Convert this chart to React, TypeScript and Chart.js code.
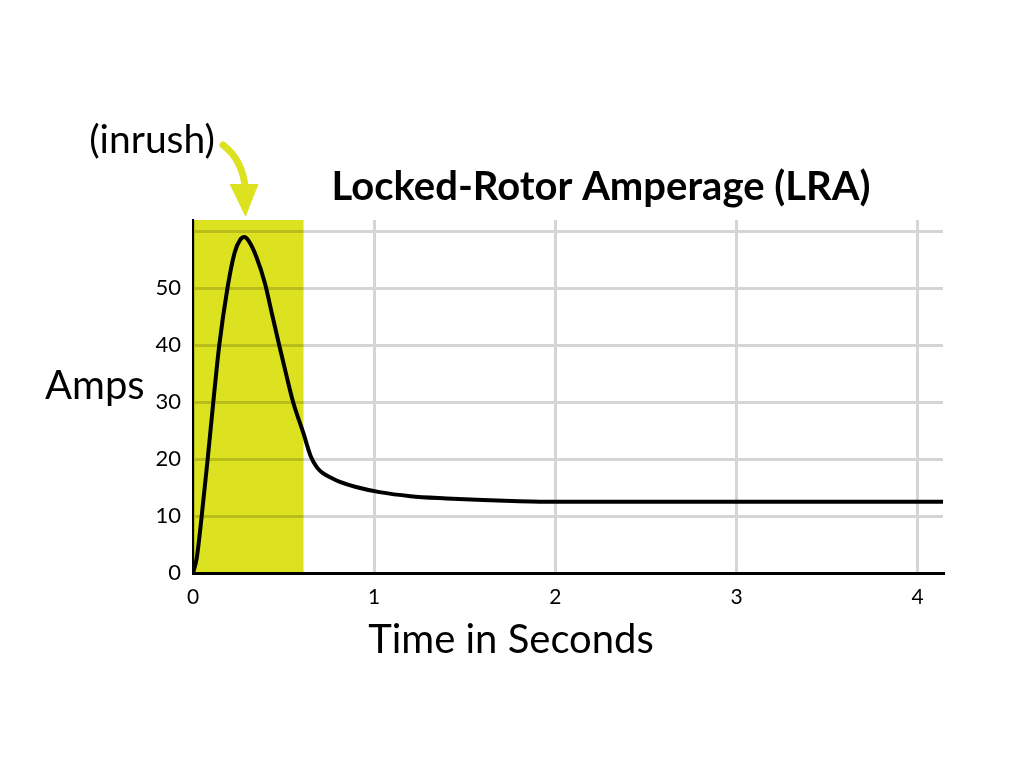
import React, { useEffect, useRef } from "react";
import { Chart, registerables } from "chart.js";

Chart.register(...registerables);

const timeSeconds = [0, 0.02, 0.048, 0.081, 0.112, 0.145, 0.19, 0.23, 0.26, 0.283, 0.31, 0.35, 0.397, 0.436, 0.476, 0.515, 0.553, 0.609, 0.651, 0.685, 0.719, 0.77, 0.811, 0.9, 1.03, 1.2, 1.4, 1.6, 1.8, 2.0, 2.5, 3.0, 3.5, 4.14];
const amps = [0, 2.5, 10, 20, 30, 40, 50, 56.3, 58.5, 59, 58.2, 55.5, 50.9, 45.5, 40, 34.8, 30, 24.6, 20.4, 18.5, 17.5, 16.6, 16.0, 15.1, 14.2, 13.5, 13.1, 12.8, 12.6, 12.5, 12.5, 12.5, 12.5, 12.5];
const xTickValues = [0, 1, 2, 3, 4];
const yTickLabels = [0, 10, 20, 30, 40, 50];
const yGridValues = [0, 10, 20, 30, 40, 50, 60];
const inrushStart = 0;
const inrushEnd = 0.61;
const inrushPeak = 0.29;
const xMax = 4.14;
const yMax = 62;

const titleText = "Locked-Rotor Amperage (LRA)";
const yAxisTitle = "Amps";
const xAxisTitle = "Time in Seconds";
const inrushLabel = "(inrush)";

const YELLOW = "#dce21f";
const GRID = "#d5d5d5";
const FONT = "Lato, 'Open Sans', sans-serif";

const overlayPlugin = {
  id: "overlay",
  beforeDatasetsDraw(chart: any) {
    const { ctx, chartArea, scales } = chart;
    const x0 = scales.x.getPixelForValue(inrushStart);
    const x1 = scales.x.getPixelForValue(inrushEnd);
    ctx.save();
    ctx.globalCompositeOperation = "multiply";
    ctx.fillStyle = YELLOW;
    ctx.fillRect(x0, chartArea.top, x1 - x0, chartArea.bottom - chartArea.top);
    ctx.restore();
  },
  afterDraw(chart: any) {
    const { ctx, chartArea, scales } = chart;
    ctx.save();
    ctx.fillStyle = "#000";
    ctx.textBaseline = "alphabetic";
    // title
    ctx.font = `bold 40px ${FONT}`;
    ctx.textAlign = "center";
    ctx.fillText(titleText, 601, 200);
    // axis titles
    ctx.font = `40px ${FONT}`;
    ctx.textAlign = "left";
    ctx.fillText(yAxisTitle, 45, 399);
    ctx.textAlign = "center";
    ctx.fillText(xAxisTitle, 511, 653);
    // inrush label
    ctx.font = `39px ${FONT}`;
    ctx.textAlign = "right";
    ctx.fillText(inrushLabel, 215, 153);
    // arrow
    const peakX = scales.x.getPixelForValue(inrushPeak);
    ctx.strokeStyle = YELLOW;
    ctx.fillStyle = YELLOW;
    ctx.lineWidth = 7;
    ctx.lineCap = "round";
    ctx.beginPath();
    ctx.moveTo(223, 145);
    ctx.quadraticCurveTo(243, 160, peakX, 190);
    ctx.stroke();
    ctx.beginPath();
    ctx.moveTo(peakX - 16, 184);
    ctx.lineTo(peakX + 13, 184);
    ctx.lineTo(peakX, chartArea.top - 3);
    ctx.closePath();
    ctx.fill();
    ctx.restore();
  },
};

export default function App() {
  const canvasRef = useRef<HTMLCanvasElement | null>(null);

  useEffect(() => {
    const canvas = canvasRef.current;
    if (!canvas) return;
    const points = timeSeconds.map((t, i) => ({ x: t, y: amps[i] }));
    const chart = new Chart(canvas, {
      type: "line",
      data: {
        datasets: [
          {
            data: points,
            borderColor: "#000",
            borderWidth: 4,
            pointRadius: 0,
            fill: false,
            cubicInterpolationMode: "monotone",
          },
        ],
      },
      options: {
        responsive: false,
        animation: false,
        layout: { padding: { top: 220, right: 69, bottom: 143, left: 0 } },
        plugins: {
          legend: { display: false },
          title: { display: false },
          tooltip: { enabled: false },
        },
        scales: {
          x: {
            type: "linear",
            min: 0,
            max: xMax,
            afterFit: (s: any) => {
              s.height = 60;
            },
            afterBuildTicks: (s: any) => {
              s.ticks = xTickValues.map((v) => ({ value: v }));
            },
            ticks: {
              color: "#000",
              font: { family: FONT, size: 21 },
              padding: 12,
              maxRotation: 0,
            },
            grid: { color: GRID, lineWidth: 3, drawTicks: false },
            border: { color: "#000", width: 3 },
          },
          y: {
            min: 0,
            max: yMax,
            afterFit: (s: any) => {
              s.width = 193;
            },
            afterBuildTicks: (s: any) => {
              s.ticks = yGridValues.map((v) => ({ value: v }));
            },
            ticks: {
              color: "#000",
              font: { family: FONT, size: 22 },
              padding: 12,
              callback: (v: any) => (yTickLabels.includes(Number(v)) ? String(v) : ""),
            },
            grid: { color: GRID, lineWidth: 3, drawTicks: false },
            border: { color: "#000", width: 2 },
          },
        },
      },
      plugins: [overlayPlugin],
    } as any);
    return () => chart.destroy();
  }, []);

  return (
    <div style={{ position: "absolute", left: 0, top: 0, width: 1012, height: 776, background: "#fff" }}>
      <canvas ref={canvasRef} width={1012} height={776} />
    </div>
  );
}
